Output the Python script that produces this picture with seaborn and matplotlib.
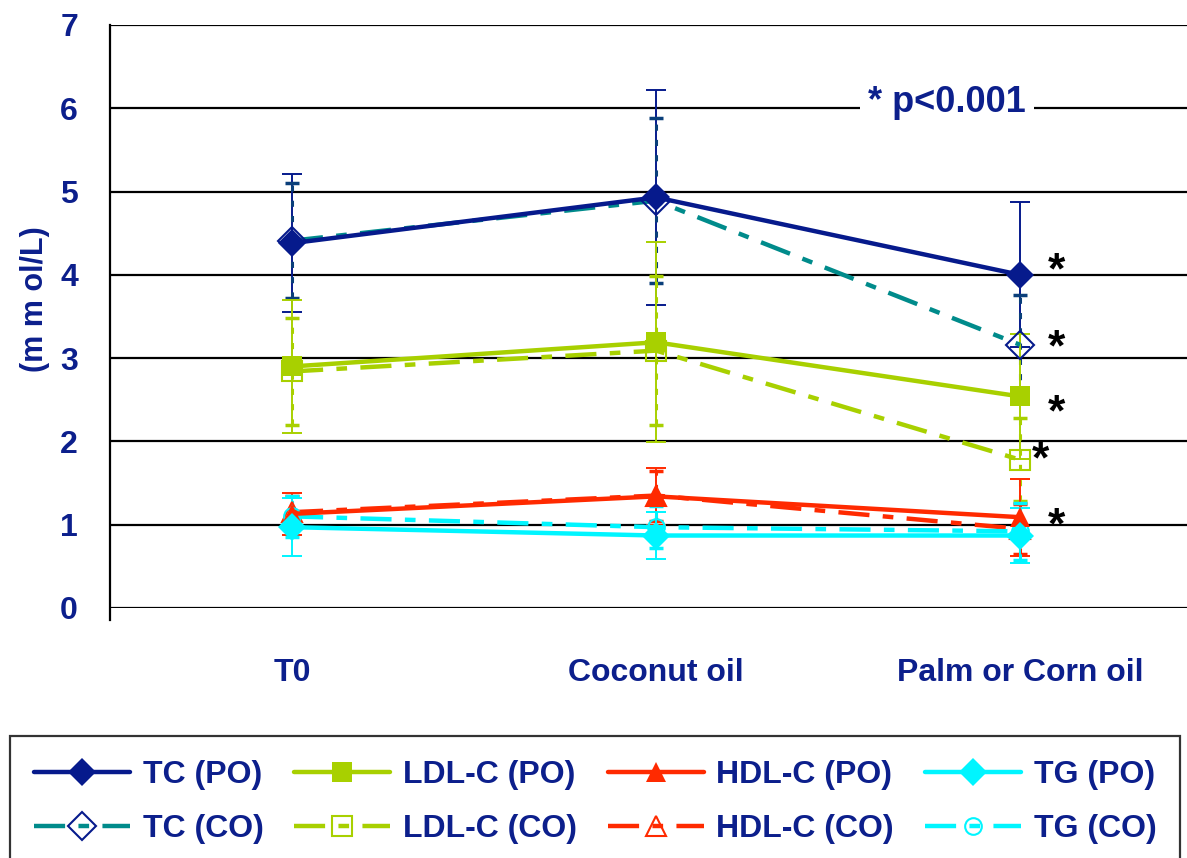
import numpy as np
import pandas as pd
import matplotlib
matplotlib.use("Agg")
import matplotlib.pyplot as plt
import seaborn as sns
from matplotlib.ticker import FixedLocator

# data
periods = ["T0", "Coconut oil", "Palm or Corn oil"]

tc_po = [4.38, 4.93, 4.00]
tc_po_sd = [0.83, 1.29, 0.87]
tc_co = [4.41, 4.89, 3.16]
tc_co_sd = [0.69, 0.99, 0.60]

ldl_po = [2.90, 3.19, 2.54]
ldl_po_sd = [0.80, 1.20, 0.75]
ldl_co = [2.84, 3.09, 1.78]
ldl_co_sd = [0.64, 0.89, 0.50]

hdl_po = [1.13, 1.34, 1.09]
hdl_po_sd = [0.25, 0.34, 0.46]
hdl_co = [1.15, 1.35, 0.95]
hdl_co_sd = [0.20, 0.30, 0.30]

tg_po = [0.97, 0.87, 0.87]
tg_po_sd = [0.35, 0.28, 0.33]
tg_co = [1.10, 0.97, 0.92]
tg_co_sd = [0.25, 0.25, 0.34]

blue_txt = "#0c1f8c"
navy = "#061a8c"
teal = "#008b8b"
lime = "#a8d000"
red = "#ff2a00"
cyan = "#00f5ff"

sns.set_style("white")
plt.rcParams["font.family"] = ["Liberation Sans", "DejaVu Sans"]
plt.rcParams["font.weight"] = "bold"

fig = plt.figure(figsize=(11.87, 8.58), dpi=100)
ax = fig.add_axes([0.0927, 0.2914, 0.92, 0.6795])

dashdot = (7, 3, 2.4, 3)
series = [
    ("TC (PO)", tc_po, tc_po_sd, navy, "D", True),
    ("TC (CO)", tc_co, tc_co_sd, teal, "D", False),
    ("LDL-C (PO)", ldl_po, ldl_po_sd, lime, "s", True),
    ("LDL-C (CO)", ldl_co, ldl_co_sd, lime, "s", False),
    ("HDL-C (PO)", hdl_po, hdl_po_sd, red, "^", True),
    ("HDL-C (CO)", hdl_co, hdl_co_sd, red, "^", False),
    ("TG (PO)", tg_po, tg_po_sd, cyan, "D", True),
    ("TG (CO)", tg_co, tg_co_sd, cyan, "o", False),
]

handles = []
for name, vals, sds, col, mk, po in series:
    df = pd.DataFrame({"period": periods, "value": vals, "sd": sds})
    x = np.arange(len(periods))
    ebar_col = col if name != "TC (CO)" else "#0a3f7a"
    eb = ax.errorbar(x, df["value"], yerr=df["sd"], fmt="none", ecolor=ebar_col,
                     elinewidth=1.4, capsize=7 if po else 5, capthick=1.4 if po else 2.5,
                     zorder=2)
    if not po:
        eb[2][0].set_linestyle((0, (2, 3)))
        eb[2][0].set_linewidth(2.2)
    mcol = navy if name == "TC (CO)" else col
    sns.lineplot(x=x, y=df["value"], ax=ax, color=col, lw=3.2, marker=mk,
                 markersize=14 if mk != "o" else 12,
                 markerfacecolor=col, markeredgecolor=mcol,
                 markeredgewidth=1.5 if not po else 0,
                 linestyle="-" if po else (0, dashdot), zorder=4 if po else 3,
                 label=name, legend=False)
    line = ax.lines[-1]
    if not po:
        line.set_markerfacecolor("none")
    handles.append(line)

ax.set_xlim(-0.5, 2.5)
ax.set_ylim(0, 7)
ax.set_yticks(range(0, 8))
ax.set_xticks(range(len(periods)))
ax.set_xticklabels(periods)
ax.xaxis.set_minor_locator(FixedLocator([-0.5, 0.5, 1.5, 2.5]))
ax.tick_params(axis="x", which="major", length=0, pad=36, labelsize=23, labelcolor=blue_txt)
ax.tick_params(axis="x", which="minor", length=12, width=1.5, color="black", direction="out")
ax.tick_params(axis="y", length=9, width=1.5, color="black", direction="out",
               labelsize=23, labelcolor=blue_txt, pad=14)
ax.set_ylabel("(m m ol/L)", fontsize=22, color=blue_txt, fontweight="bold")
ax.yaxis.set_label_coords(-0.055, 0.53)
ax.yaxis.grid(True, color="black", lw=1.6)
ax.xaxis.grid(False)
for s in ["top", "right", "bottom"]:
    ax.spines[s].set_visible(False)
ax.spines["left"].set_color("black")
ax.spines["left"].set_linewidth(1.6)
ax.spines["left"].set_bounds(-0.15, 7)

ax.text(1.80, 6.07, "* p<0.001", fontsize=26, color=blue_txt, fontweight="bold",
        ha="center", va="center", zorder=5,
        bbox=dict(facecolor="white", edgecolor="none", pad=6))

for xs, ys in [(2.10, 4.04), (2.10, 3.11), (2.10, 2.33), (2.057, 1.76), (2.10, 0.97)]:
    ax.text(xs, ys, "*", fontsize=32, color="black", fontweight="bold",
            ha="center", va="center")

fig.legend(handles=handles, labels=[h.get_label() for h in handles], ncol=4,
           loc="upper left", bbox_to_anchor=(0.0084, -0.01, 0.986, 0.152), mode="expand",
           frameon=True, fancybox=False, edgecolor="black", fontsize=23,
           labelcolor=blue_txt, handlelength=3.0, handletextpad=0.4,
           borderaxespad=0, labelspacing=0.75, borderpad=0.75)
fig.legends[0].get_frame().set_linewidth(1.6)

fig.savefig("out.png", dpi=100)
